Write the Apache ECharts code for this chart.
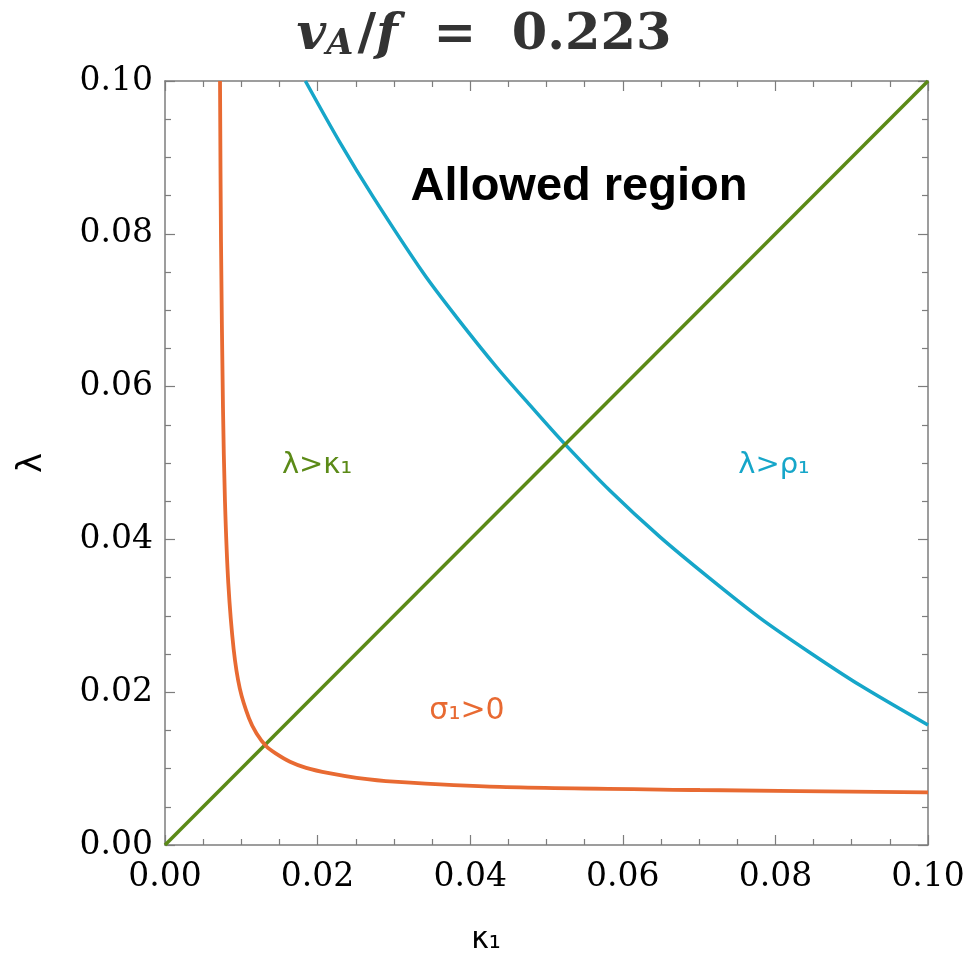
<!DOCTYPE html>
<html>
<head>
<meta charset="utf-8">
<script src="https://cdn.jsdelivr.net/npm/echarts/dist/echarts.min.js"></script>
<style>
  html, body { margin: 0; padding: 0; background: #fff; }
  #chart { width: 968px; height: 960px; }
</style>
</head>
<body>
<div id="chart"></div>
<script>
// axis ticks
const tickValues = [0, 0.02, 0.04, 0.06, 0.08, 0.1]

// lambda > kappa1 (diagonal)
const kappaGreen = [0, 0.1]
const lambdaGreen = [0, 0.1]

// lambda > rho1
const kappaBlue = [0.0184, 0.0229, 0.0273, 0.0339, 0.0382, 0.0435, 0.0478, 0.0522, 0.0583, 0.0649, 0.0714, 0.0780, 0.0845, 0.0911, 0.1]
const lambdaBlue = [0.1, 0.0920, 0.0848, 0.0748, 0.0691, 0.0625, 0.0576, 0.0527, 0.0464, 0.0403, 0.0349, 0.0297, 0.0252, 0.0209, 0.0157]

// sigma1 > 0
const kappaOrange = [0.00721, 0.00734, 0.00760, 0.00786, 0.00830, 0.00900, 0.00980, 0.01100, 0.01200, 0.01330, 0.01450, 0.01638, 0.01850, 0.02150, 0.02512, 0.03000, 0.0439, 0.0701, 0.1]
const lambdaOrange = [0.1, 0.0790, 0.0572, 0.0450, 0.0342, 0.0256, 0.0205, 0.0166, 0.0146, 0.0129, 0.0120, 0.0109, 0.0101, 0.0094, 0.0088, 0.0083, 0.0076, 0.0072, 0.0069]

const GREEN = '#5b8a17'
const BLUE = '#16a6c9'
const ORANGE = '#e86a32'
const AXIS = '#7d7d7d'

function zip(xs, ys) {
    return xs.map((x, i) => [x, ys[i]])
}

function makeAxis(position, showLabel) {
    return {
        type: 'value',
        position: position,
        min: tickValues[0],
        max: tickValues[tickValues.length - 1],
        interval: tickValues[1] - tickValues[0],
        splitLine: { show: false },
        axisLine: { show: true, onZero: false, lineStyle: { color: AXIS, width: 1.5 } },
        axisTick: { show: true, inside: true, length: 10, lineStyle: { color: AXIS, width: 1.2 } },
        minorTick: { show: true, splitNumber: 4, length: 6, lineStyle: { color: AXIS, width: 1.2 } },
        axisLabel: {
            show: showLabel,
            color: '#000',
            fontFamily: 'DejaVu Serif',
            fontSize: 33,
            formatter: v => v.toFixed(2)
        }
    }
}

function getOption() {
    const xBottom = makeAxis('bottom', true)
    xBottom.axisLabel.margin = 16
    const yLeft = makeAxis('left', true)
    yLeft.axisLabel.margin = 12
    yLeft.name = 'λ'
    yLeft.nameLocation = 'middle'
    yLeft.nameGap = 116
    yLeft.nameRotate = 90
    yLeft.nameTextStyle = { color: '#000', fontFamily: 'DejaVu Sans', fontSize: 34 }

    return {
        backgroundColor: '#fff',
        animation: false,
        title: {
            text: '{i|v}{s|A}{n|/}{i|f}{n|  =  0.223}',
            left: 'center',
            top: 4,
            textStyle: {
                rich: {
                    i: { fontFamily: 'DejaVu Serif', fontStyle: 'italic', fontWeight: 'bold', fontSize: 51, color: '#333' },
                    s: { fontFamily: 'DejaVu Serif', fontStyle: 'italic', fontWeight: 'bold', fontSize: 35, color: '#333', verticalAlign: 'bottom', padding: [18, 4, 0, 0] },
                    n: { fontFamily: 'DejaVu Serif', fontWeight: 'bold', fontSize: 51, color: '#333' }
                }
            }
        },
        grid: { left: 165, right: 40, top: 81, bottom: 115, containLabel: false },
        xAxis: [xBottom, makeAxis('top', false)],
        yAxis: [yLeft, makeAxis('right', false)],
        series: [{
            name: 'λ>κ1',
            type: 'line',
            data: zip(kappaGreen, lambdaGreen),
            showSymbol: false,
            lineStyle: { color: GREEN, width: 3.5 },
            z: 3
        }, {
            name: 'λ>ρ1',
            type: 'line',
            data: zip(kappaBlue, lambdaBlue),
            showSymbol: false,
            smooth: 0.3,
            lineStyle: { color: BLUE, width: 3.5 },
            z: 2
        }, {
            name: 'σ1>0',
            type: 'line',
            data: zip(kappaOrange, lambdaOrange),
            showSymbol: false,
            smooth: 0.3,
            lineStyle: { color: ORANGE, width: 3.8 },
            z: 4
        }],
        graphic: [{
            type: 'text', x: 579, y: 187,
            style: { text: 'Allowed region', fill: '#000', font: 'bold 47px "Liberation Sans"', textAlign: 'center', textVerticalAlign: 'middle' }
        }, {
            type: 'text', x: 317, y: 465,
            style: { text: 'λ>κ₁', fill: GREEN, font: '29px "DejaVu Sans"', textAlign: 'center', textVerticalAlign: 'middle' }
        }, {
            type: 'text', x: 774, y: 465,
            style: { text: 'λ>ρ₁', fill: BLUE, font: '29px "DejaVu Sans"', textAlign: 'center', textVerticalAlign: 'middle' }
        }, {
            type: 'text', x: 467, y: 711,
            style: { text: 'σ₁>0', fill: ORANGE, font: '30px "DejaVu Sans"', textAlign: 'center', textVerticalAlign: 'middle' }
        }, {
            type: 'text', x: 486, y: 940,
            style: { text: 'κ₁', fill: '#000', font: '30px "DejaVu Sans"', textAlign: 'center', textVerticalAlign: 'middle' }
        }]
    }
}

var myChart = echarts.init(document.getElementById('chart'))
myChart.setOption(getOption())
</script>
</body>
</html>
